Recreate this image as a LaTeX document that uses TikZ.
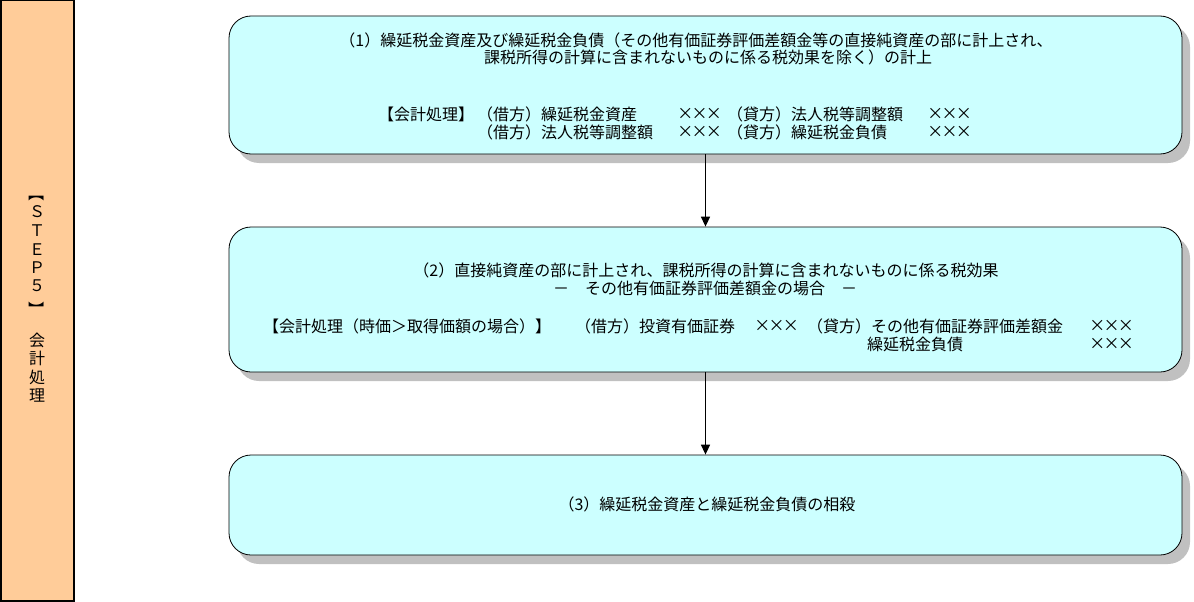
\documentclass[tikz,border=0pt]{standalone}
\usepackage{fontspec}
\setmainfont{Noto Sans CJK JP}
\usetikzlibrary{arrows.meta,shadows}
\definecolor{boxfill}{HTML}{CCFFFF}
\definecolor{stepfill}{HTML}{FFCC99}
\definecolor{shadowgray}{HTML}{C0C0C0}
\newcommand{\xxxmark}{\makebox[14.3pt]{×}\makebox[14.3pt]{×}\makebox[14.3pt]{×}}
\begin{document}
\begin{tikzpicture}[x=1pt,y=-1pt,
  stepbox/.style={draw=black, line width=0.8pt, fill=boxfill, rounded corners=22pt,
    minimum width=953pt, inner sep=0pt,
    drop shadow={shadow xshift=8pt, shadow yshift=-9pt, fill=shadowgray, opacity=1}},
  sidebox/.style={draw=black, line width=1.5pt, fill=stepfill, inner sep=0pt,
    minimum width=73pt, minimum height=600pt},
  txt/.style={inner sep=0pt, anchor=west, font=\fontsize{16}{18}\selectfont},
  ctxt/.style={inner sep=0pt, anchor=center, font=\fontsize{16}{18}\selectfont},
  flow/.style={line width=1.5pt, -{Triangle[width=9pt,length=10pt]}}]
\useasboundingbox (0,0) rectangle (1194,602);

% left STEP box
\node[sidebox] (side) at (37.5,300.75) {};
\node[ctxt, rotate=-90] (sbo) at (37,193) {【};
\node[ctxt] (s1) at (37,212) {Ｓ};
\node[ctxt] (s2) at (37,231) {Ｔ};
\node[ctxt] (s3) at (37,250) {Ｅ};
\node[ctxt] (s4) at (37,268) {Ｐ};
\node[ctxt] (s5) at (37,286) {５};
\node[ctxt, rotate=-90] (sbc) at (37,309) {】};
\node[ctxt] (s6) at (37,340) {会};
\node[ctxt] (s7) at (37,358) {計};
\node[ctxt] (s8) at (37,377) {処};
\node[ctxt] (s9) at (37,396) {理};

% main boxes
\node[stepbox, minimum height=138pt] (b1) at (705.5,85) {};
\node[stepbox, minimum height=145pt] (b2) at (705.5,299.5) {};
\node[stepbox, minimum height=100pt] (b3) at (705.5,505) {};

% box 1 text
\node[ctxt] (t11) at (696,40) {（1）繰延税金資産及び繰延税金負債（その他有価証券評価差額金等の直接純資産の部に計上され、};
\node[ctxt] (t12) at (708,57) {課税所得の計算に含まれないものに係る税効果を除く）の計上};
\node[txt] (t13a) at (378,114) {【会計処理】};
\node[txt] (t13b) at (477,114) {（借方）繰延税金資産};
\node[txt] (t13c) at (678,114) {\xxxmark};
\node[txt] (t13d) at (727,114) {（貸方）法人税等調整額};
\node[txt] (t13e) at (928,114) {\xxxmark};
\node[txt] (t14b) at (477,132) {（借方）法人税等調整額};
\node[txt] (t14c) at (678,132) {\xxxmark};
\node[txt] (t14d) at (727,132) {（貸方）繰延税金負債};
\node[txt] (t14e) at (928,132) {\xxxmark};

% box 2 text
\node[ctxt] (t21) at (706,270) {（2）直接純資産の部に計上され、課税所得の計算に含まれないものに係る税効果};
\node[ctxt] (t22) at (705,288) {－　その他有価証券評価差額金の場合　－};
\node[txt] (t23a) at (263,326) {【会計処理（時価＞取得価額の場合）】};
\node[txt] (t23b) at (575,326) {（借方）投資有価証券};
\node[txt] (t23c) at (755,326) {\xxxmark};
\node[txt] (t23d) at (807,326) {（貸方）その他有価証券評価差額金};
\node[txt] (t23e) at (1090,326) {\xxxmark};
\node[txt] (t24d) at (867,344) {繰延税金負債};
\node[txt] (t24e) at (1090,344) {\xxxmark};

% box 3 text
\node[ctxt] (t31) at (707,504) {（3）繰延税金資産と繰延税金負債の相殺};

% connectors
\draw[flow] (b1.south) -- (b2.north);
\draw[flow] (b2.south) -- (b3.north);
\end{tikzpicture}
\end{document}
